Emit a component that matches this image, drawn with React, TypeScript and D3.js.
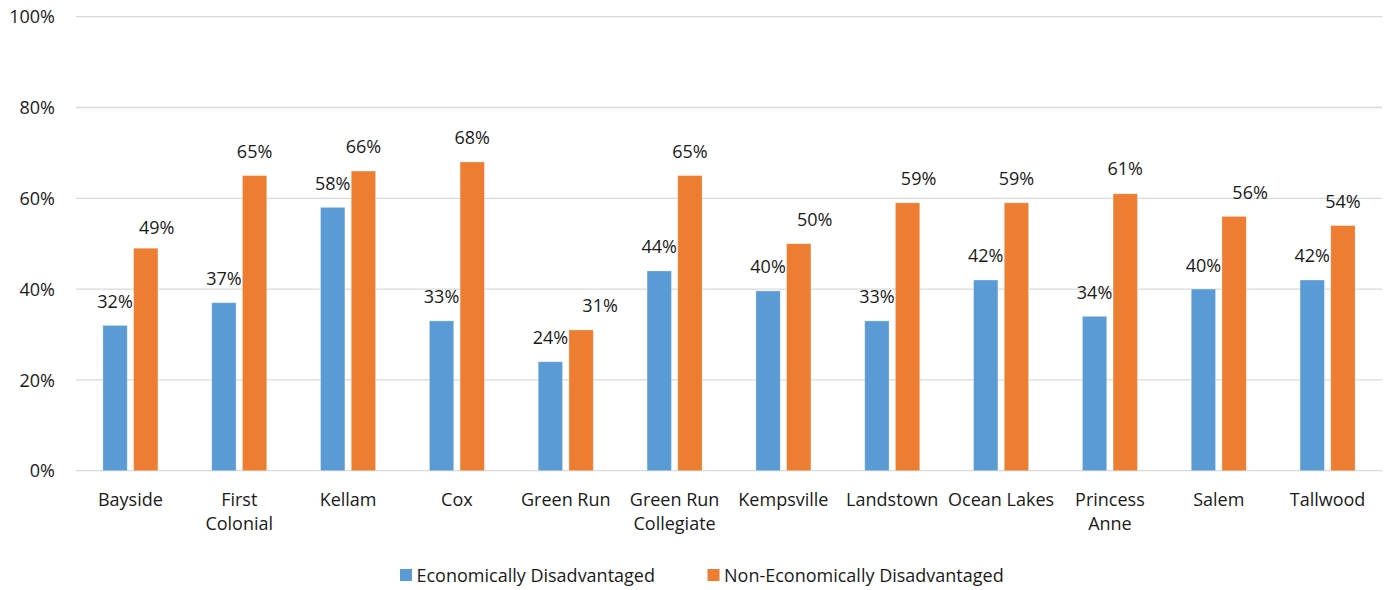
import React from "react";
import * as d3 from "d3";

const categories = [
  ["Bayside"],
  ["First", "Colonial"],
  ["Kellam"],
  ["Cox"],
  ["Green Run"],
  ["Green Run", "Collegiate"],
  ["Kempsville"],
  ["Landstown"],
  ["Ocean Lakes"],
  ["Princess", "Anne"],
  ["Salem"],
  ["Tallwood"],
];
const econDisadvantaged = [32, 37, 58, 33, 24, 44, 39.6, 33, 42, 34, 40, 42];
const nonEconDisadvantaged = [49, 65, 66, 68, 31, 65, 50, 59, 59, 61, 56, 54];
const yTicks = [0, 20, 40, 60, 80, 100];
const seriesNames = ["Economically Disadvantaged", "Non-Economically Disadvantaged"];
const seriesColors = ["#5B9BD5", "#ED7D31"];
// manual label nudges (px) applied to the orange series labels, as in the reference
const orangeLabelNudgeX = [11, 0, 0, 0, 19, 0, 16, 11, 0, 0, 16, 0];
const orangeLabelNudgeY = [3, 0, 0, 0, 0, 0, 0, 0, 0, -1, 0, 0];

const W = 1384;
const H = 590;
const plot = { left: 76, right: 1382, top: 16.7, bottom: 470.7 };
const FONT = "'Open Sans', 'Noto Sans', sans-serif";

export default function App() {
  const keys = categories.map((c) => c.join(" "));
  const x = d3.scaleBand<string>().domain(keys).range([plot.left, plot.right]).padding(0);
  const groupW = 55;
  const inner = d3
    .scaleBand<number>()
    .domain([0, 1])
    .range([0, groupW])
    .paddingInner(0.208)
    .paddingOuter(0);
  const y = d3.scaleLinear().domain([0, 100]).range([plot.bottom, plot.top]);
  const series = [econDisadvantaged, nonEconDisadvantaged];
  const fmt = (v: number) => `${Math.round(v)}%`;

  return (
    <svg
      width={W}
      height={H}
      style={{ position: "absolute", left: 0, top: 0, background: "#fff" }}
      fontFamily={FONT}
    >
      {/* gridlines */}
      {yTicks.map((t) => (
        <line
          key={t}
          x1={plot.left}
          x2={plot.right}
          y1={y(t)}
          y2={y(t)}
          stroke="#D9D9D9"
          strokeWidth={1.3}
        />
      ))}
      {/* y tick labels */}
      {yTicks.map((t) => (
        <text
          key={"yl" + t}
          x={55}
          y={y(t) + 6.6}
          textAnchor="end"
          fontSize={18}
          fill="#1a1a1a"
        >
          {t}%
        </text>
      ))}
      {/* bars */}
      {keys.map((k, i) => {
        const gx = (x(k) as number) + (x.bandwidth() - groupW) / 2;
        return (
          <g key={k}>
            {series.map((s, si) => (
              <rect
                key={si}
                x={gx + (inner(si) as number)}
                y={y(s[i])}
                width={inner.bandwidth()}
                height={y(0) - y(s[i])}
                fill={seriesColors[si]}
                stroke="#ffffff"
                strokeOpacity={0.35}
                strokeWidth={0.8}
              />
            ))}
          </g>
        );
      })}
      {/* data labels */}
      {keys.map((k, i) => {
        const gx = (x(k) as number) + (x.bandwidth() - groupW) / 2;
        return (
          <g key={"lab" + k}>
            {series.map((s, si) => {
              const cx = gx + (inner(si) as number) + inner.bandwidth() / 2;
              const nx = si === 1 ? orangeLabelNudgeX[i] : 0;
              const ny = si === 1 ? orangeLabelNudgeY[i] : 0;
              return (
                <text
                  key={si}
                  x={cx + nx}
                  y={y(s[i]) - 17.6 + ny}
                  textAnchor="middle"
                  fontSize={18}
                  fill="#1a1a1a"
                >
                  {fmt(s[i])}
                </text>
              );
            })}
          </g>
        );
      })}
      {/* category labels */}
      {categories.map((c, i) => {
        const cx = (x(keys[i]) as number) + x.bandwidth() / 2;
        return (
          <text key={"cat" + i} textAnchor="middle" fontSize={18} fill="#1a1a1a">
            {c.map((line, li) => (
              <tspan key={li} x={cx} y={505.5 + li * 24}>
                {line}
              </tspan>
            ))}
          </text>
        );
      })}
      {/* legend */}
      {seriesNames.map((name, si) => {
        const lx = [400, 707.5][si];
        return (
          <g key={"leg" + si}>
            <rect x={lx} y={569} width={12} height={12} fill={seriesColors[si]} />
            <text x={lx + 16.5} y={581.5} fontSize={18} fill="#1a1a1a">
              {name}
            </text>
          </g>
        );
      })}
    </svg>
  );
}
